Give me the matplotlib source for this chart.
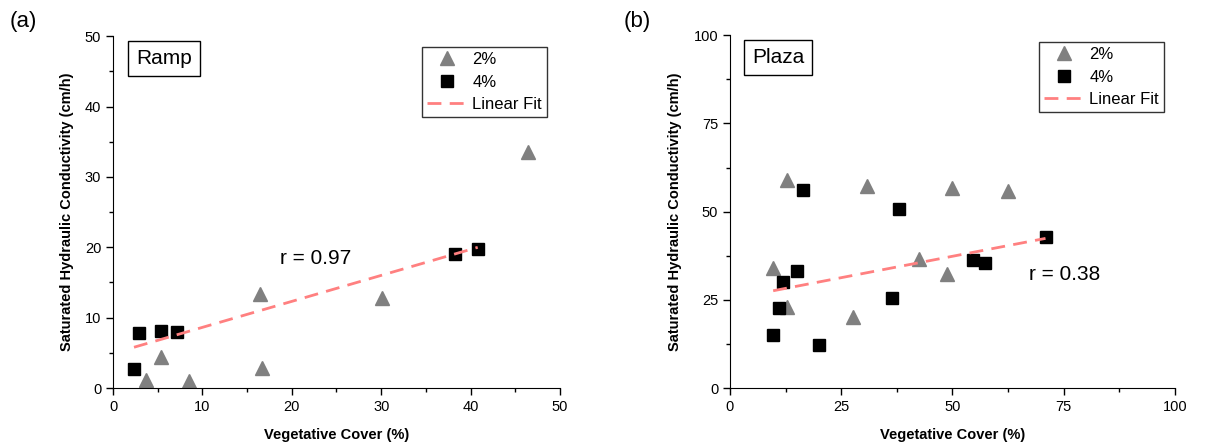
import numpy as np
import matplotlib
matplotlib.use("Agg")
import matplotlib.pyplot as plt
from matplotlib.ticker import MultipleLocator

plt.rcParams["font.family"] = ["Liberation Sans", "DejaVu Sans"]

# Ramp panel (a)
ramp_x_2 = [46.4, 16.4, 30.1, 5.4, 16.7, 3.7, 8.5]
ramp_y_2 = [33.5, 13.3, 12.8, 4.4, 2.9, 1.2, 1.0]
ramp_x_4 = [2.9, 5.4, 7.2, 2.35, 38.3, 40.8]
ramp_y_4 = [7.8, 8.1, 7.9, 2.65, 19.1, 19.8]

# Plaza panel (b)
plaza_x_2 = [12.9, 30.7, 50.0, 62.4, 9.6, 42.4, 48.8, 12.9, 27.6]
plaza_y_2 = [59.1, 57.3, 56.7, 55.8, 33.9, 36.5, 32.2, 22.9, 20.2]
plaza_x_4 = [16.3, 38.0, 70.9, 54.7, 57.3, 15.1, 11.8, 11.1, 36.5, 9.7, 20.1]
plaza_y_4 = [56.2, 50.8, 42.9, 36.2, 35.5, 33.3, 30.1, 22.6, 25.4, 14.9, 12.3]

fig = plt.figure(figsize=(12.06, 4.46), dpi=100)
ax_a = fig.add_axes([0.0937, 0.130, 0.3706, 0.789])
ax_b = fig.add_axes([0.6053, 0.130, 0.3690, 0.791])

fit_color = "#ff8080"


def draw_panel(ax, x2, y2, x4, y4, lim, major, minor, name, name_pos, r_text, r_pos,
               leg_anchor):
    ax.plot(x2, y2, linestyle="none", marker="^", color="#808080", ms=10, label="2%")
    ax.plot(x4, y4, linestyle="none", marker="s", color="black", ms=8.5, label="4%")
    # linear fit through the 4% points
    slope, icpt = np.polyfit(x4, y4, 1)
    xs = np.array([min(x4), max(x4)])
    ax.plot(xs, slope * xs + icpt, linestyle=(0, (5, 3)), color=fit_color, lw=2,
            label="Linear Fit")
    ax.set_xlim(0, lim)
    ax.set_ylim(0, lim)
    ax.xaxis.set_major_locator(MultipleLocator(major))
    ax.xaxis.set_minor_locator(MultipleLocator(minor))
    ax.yaxis.set_major_locator(MultipleLocator(major))
    ax.yaxis.set_minor_locator(MultipleLocator(minor))
    ax.tick_params(which="major", direction="out", length=5, width=1, labelsize=10.5)
    ax.tick_params(which="minor", direction="out", length=3, width=1)
    for s in ("top", "right"):
        ax.spines[s].set_visible(False)
    ax.set_xlabel("Vegetative Cover (%)", fontsize=10.5, fontweight="bold", labelpad=10)
    ax.set_ylabel("Saturated Hydraulic Conductivity (cm/h)", fontsize=10.5,
                  fontweight="bold", labelpad=8)
    ax.text(name_pos[0], name_pos[1], name, transform=ax.transAxes, fontsize=15,
            va="center", ha="center",
            bbox=dict(boxstyle="square,pad=0.38", fc="white", ec="black", lw=1))
    ax.text(r_pos[0], r_pos[1], r_text, fontsize=15, va="center", ha="left")
    leg = ax.legend(loc="upper right", bbox_to_anchor=leg_anchor, fontsize=12,
                    frameon=True, fancybox=False, edgecolor="black", handlelength=2.4,
                    handletextpad=0.3, borderpad=0.3, labelspacing=0.45,
                    borderaxespad=0)
    leg.get_frame().set_linewidth(1)


draw_panel(ax_a, ramp_x_2, ramp_y_2, ramp_x_4, ramp_y_4, 50, 10, 5, "Ramp",
           (0.114, 0.937), "r = 0.97", (18.7, 18.4), (0.971, 0.969))
draw_panel(ax_b, plaza_x_2, plaza_y_2, plaza_x_4, plaza_y_4, 100, 25, 12.5, "Plaza",
           (0.108, 0.937), "r = 0.38", (67.3, 32.3), (0.975, 0.98))

fig.text(0.008, 0.952, "(a)", fontsize=16, ha="left", va="center")
fig.text(0.517, 0.952, "(b)", fontsize=16, ha="left", va="center")

fig.savefig("out.png", dpi=100)
